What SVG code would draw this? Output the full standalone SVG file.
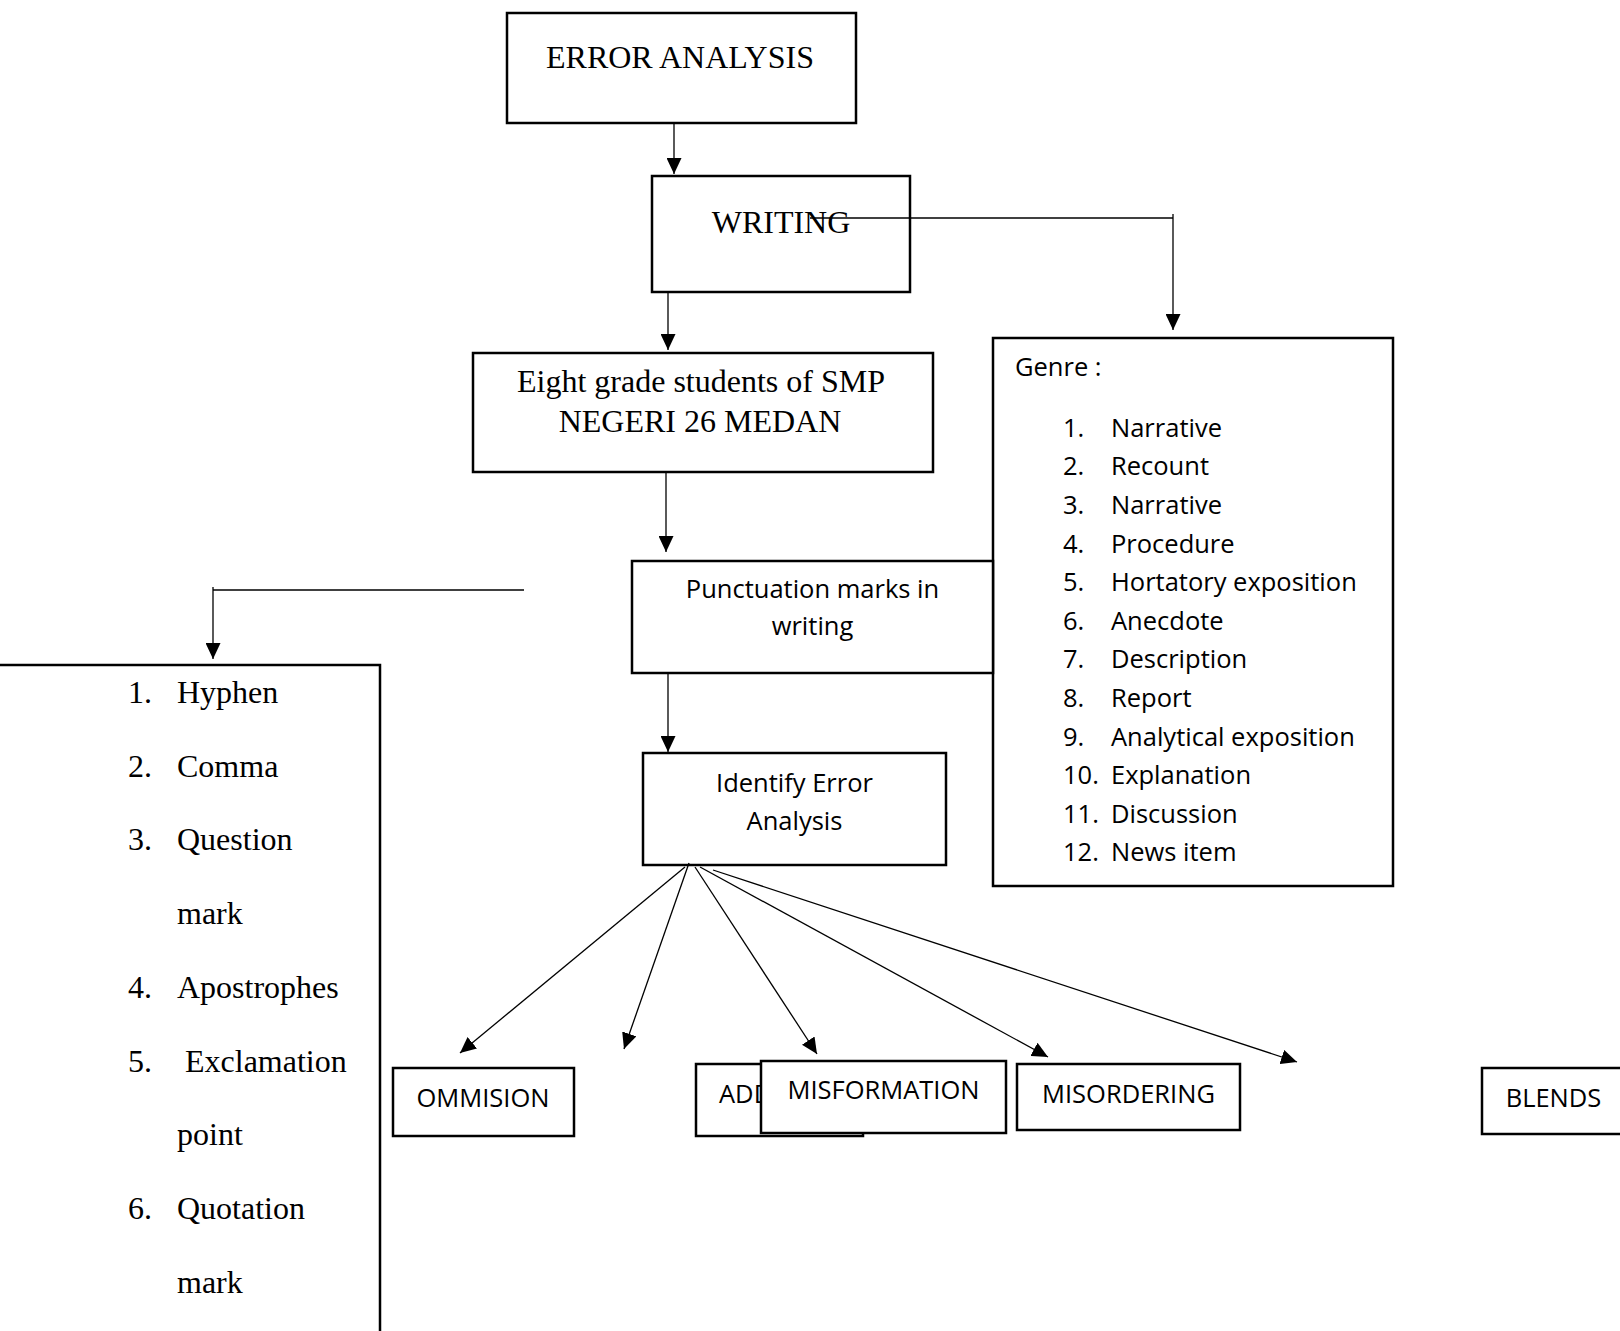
<svg xmlns="http://www.w3.org/2000/svg" width="1620" height="1331" viewBox="0 0 1620 1331">
<style>
.box{fill:#fff;stroke:#000;stroke-width:2.5}
.ser{font-family:"Liberation Serif","Times New Roman",serif;font-size:32px;fill:#000}
.san{font-family:"Open Sans","Liberation Sans",sans-serif;font-size:25.5px;fill:#000}
.c{text-anchor:middle}
.ln{fill:none;stroke:#000;stroke-width:1.3}
</style>
<defs>
<marker id="ah" markerUnits="userSpaceOnUse" markerWidth="16" markerHeight="15" viewBox="0 0 16 15" refX="16" refY="7.5" orient="auto">
<path d="M0,0 L16,7.5 L0,15 z" fill="#000"/>
</marker>
</defs>
<rect width="1620" height="1331" fill="#fff"/>
<g id="error-analysis">
<rect class="box" x="507" y="13" width="349" height="110"/>
<text class="ser c" x="680" y="68">ERROR ANALYSIS</text>
</g>
<g id="writing">
<rect class="box" x="652" y="176" width="258" height="116"/>
<text class="ser c" x="781" y="233">WRITING</text>
</g>
<g id="students">
<rect class="box" x="473" y="353" width="460" height="119"/>
<text class="ser c" x="701" y="392">Eight grade students of SMP</text>
<text class="ser c" x="700" y="432">NEGERI 26 MEDAN</text>
</g>
<g id="genre">
<rect class="box" x="993" y="338" width="400" height="548"/>
<text class="san" x="1015" y="376">Genre :</text>
<g class="san">
<text x="1063" y="436.7">1.</text><text x="1111" y="436.7">Narrative</text>
<text x="1063" y="475.3">2.</text><text x="1111" y="475.3">Recount</text>
<text x="1063" y="513.9">3.</text><text x="1111" y="513.9">Narrative</text>
<text x="1063" y="552.5">4.</text><text x="1111" y="552.5">Procedure</text>
<text x="1063" y="591.1">5.</text><text x="1111" y="591.1">Hortatory exposition</text>
<text x="1063" y="629.7">6.</text><text x="1111" y="629.7">Anecdote</text>
<text x="1063" y="668.3">7.</text><text x="1111" y="668.3">Description</text>
<text x="1063" y="706.9">8.</text><text x="1111" y="706.9">Report</text>
<text x="1063" y="745.5">9.</text><text x="1111" y="745.5">Analytical exposition</text>
<text x="1063" y="784.1">10.</text><text x="1111" y="784.1">Explanation</text>
<text x="1063" y="822.7">11.</text><text x="1111" y="822.7">Discussion</text>
<text x="1063" y="861.3">12.</text><text x="1111" y="861.3">News item</text>
</g>
</g>
<g id="punctuation">
<rect class="box" x="632" y="561" width="361" height="112"/>
<text class="san c" x="812.5" y="598">Punctuation marks in</text>
<text class="san c" x="812.5" y="635">writing</text>
</g>
<g id="identify">
<rect class="box" x="643" y="753" width="303" height="112"/>
<text class="san c" x="794.5" y="792">Identify Error</text>
<text class="san c" x="794.5" y="830">Analysis</text>
</g>
<g id="marks-list">
<rect class="box" x="-5" y="665" width="385" height="720"/>
<g class="ser">
<text x="128" y="703">1.</text><text x="177" y="703">Hyphen</text>
<text x="128" y="776.7">2.</text><text x="177" y="776.7">Comma</text>
<text x="128" y="850.4">3.</text><text x="177" y="850.4">Question</text>
<text x="177" y="924.1">mark</text>
<text x="128" y="997.8">4.</text><text x="177" y="997.8">Apostrophes</text>
<text x="128" y="1071.5">5.</text><text x="185" y="1071.5">Exclamation</text>
<text x="177" y="1145.2">point</text>
<text x="128" y="1218.9">6.</text><text x="177" y="1218.9">Quotation</text>
<text x="177" y="1292.6">mark</text>
</g>
</g>
<g id="ommision">
<rect class="box" x="393" y="1068" width="181" height="68"/>
<text class="san c" x="483" y="1107">OMMISION</text>
</g>
<g id="addition">
<rect class="box" x="696" y="1064" width="167" height="72"/>
<text class="san" x="719" y="1103">ADD</text>
</g>
<g id="misformation">
<rect class="box" x="761" y="1061" width="245" height="72"/>
<text class="san c" x="883.5" y="1099">MISFORMATION</text>
</g>
<g id="misordering">
<rect class="box" x="1017" y="1064" width="223" height="66"/>
<text class="san c" x="1128.5" y="1103">MISORDERING</text>
</g>
<g id="blends">
<rect class="box" x="1482" y="1068" width="145" height="66"/>
<text class="san c" x="1553.5" y="1107">BLENDS</text>
</g>
<g id="connectors">
<line class="ln" x1="674" y1="124" x2="674" y2="174" marker-end="url(#ah)"/>
<line class="ln" x1="810" y1="218" x2="1173" y2="218"/>
<line class="ln" x1="1173" y1="214" x2="1173" y2="330" marker-end="url(#ah)"/>
<line class="ln" x1="668" y1="292" x2="668" y2="350" marker-end="url(#ah)"/>
<line class="ln" x1="666" y1="473" x2="666" y2="552" marker-end="url(#ah)"/>
<line class="ln" x1="524" y1="590" x2="213" y2="590"/>
<line class="ln" x1="213" y1="587" x2="213" y2="659" marker-end="url(#ah)"/>
<line class="ln" x1="668" y1="673" x2="668" y2="752" marker-end="url(#ah)"/>
<line class="ln" x1="685" y1="867" x2="460" y2="1053" marker-end="url(#ah)"/>
<line class="ln" x1="689" y1="863" x2="624" y2="1049" marker-end="url(#ah)"/>
<line class="ln" x1="695" y1="867" x2="817" y2="1054" marker-end="url(#ah)"/>
<line class="ln" x1="700" y1="867" x2="1048" y2="1057" marker-end="url(#ah)"/>
<line class="ln" x1="713" y1="870" x2="1297" y2="1062" marker-end="url(#ah)"/>
</g>
</svg>
